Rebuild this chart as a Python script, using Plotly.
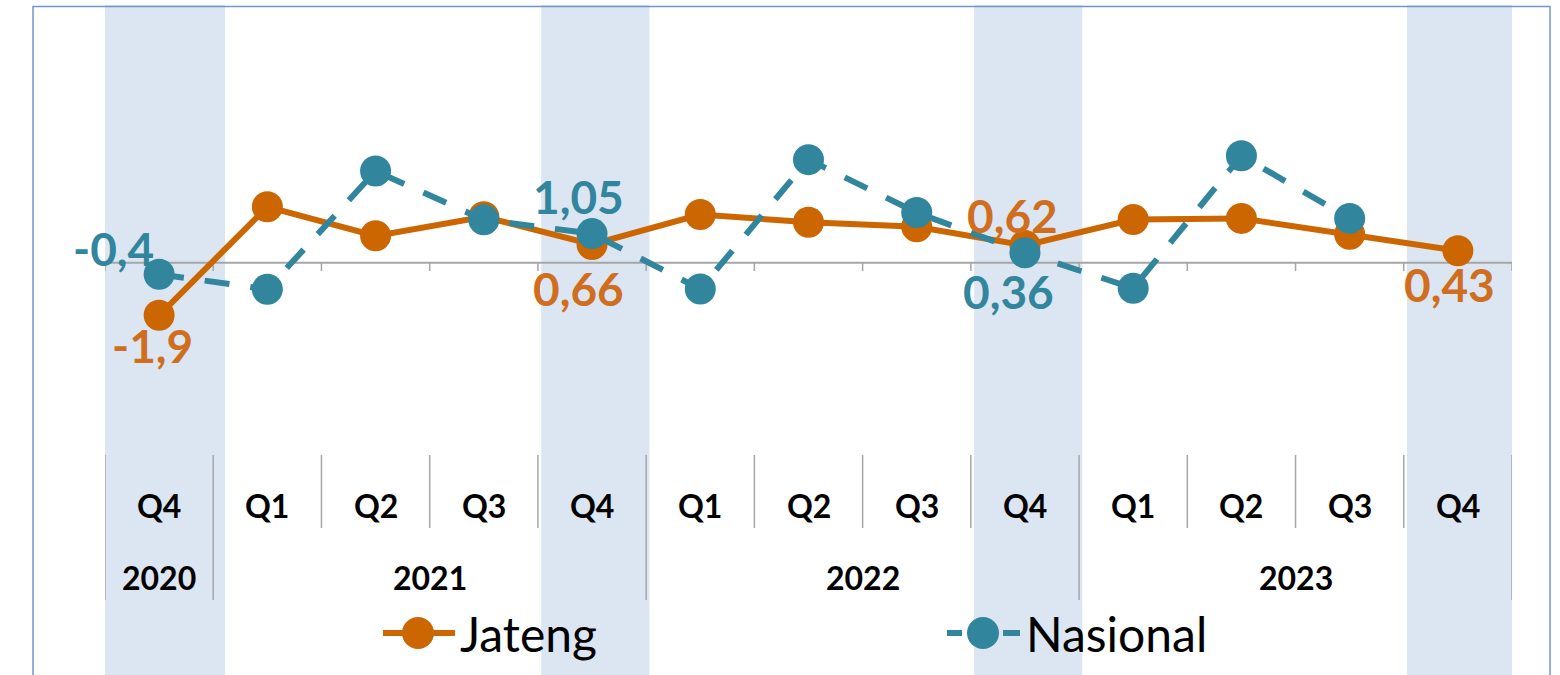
import plotly.graph_objects as go

quarters = ["Q4", "Q1", "Q2", "Q3", "Q4", "Q1", "Q2", "Q3", "Q4", "Q1", "Q2", "Q3", "Q4"]
years = ["2020", "2021", "2022", "2023"]
year_spans = [(0, 0), (1, 4), (5, 8), (9, 12)]
jateng = [-1.9, 2.02, 0.97, 1.66, 0.66, 1.74, 1.46, 1.30, 0.62, 1.56, 1.60, 1.03, 0.43]
nasional = [-0.42, -0.96, 3.31, 1.55, 1.05, -0.95, 3.72, 1.81, 0.36, -0.92, 3.86, 1.60, None]
shaded = [0, 4, 8, 12]

jateng_labels = [0, 4, 8, 12]
nasional_labels = [0, 4, 8]

ORANGE = "#CC6600"
ORANGE_TXT = "#CF6E1E"
TEAL = "#31869E"
SHADE = "#DCE6F2"
GRID = "#A6A6A6"
FONT = "Lato"

W, H = 1560, 675

ML = 105
MR = W - 1512
MT = 9
MB = H - 455
plot_h = H - MT - MB
plot_w = W - ML - MR
zero_px = 262.7
ppu = 27.7
y_top = (zero_px - MT) / ppu
y_bot = -((H - MB) - zero_px) / ppu


def py(pix):
    """pixel y -> paper y"""
    return ((H - MB) - pix) / plot_h


def px(pix):
    return (pix - ML) / plot_w


x = list(range(len(quarters)))

fig = go.Figure()
fig.add_trace(go.Scatter(
    x=x, y=jateng, mode="lines+markers", name="Jateng",
    line=dict(color=ORANGE, width=6),
    marker=dict(color=ORANGE, size=31),
    showlegend=False, cliponaxis=False,
))
fig.add_trace(go.Scatter(
    x=x, y=nasional, mode="lines+markers", name="Nasional",
    line=dict(color=TEAL, width=6, dash="25px,21px"),
    marker=dict(color=TEAL, size=31),
    showlegend=False, cliponaxis=False, connectgaps=False,
))

shapes = []
for i in shaded:
    x0 = i - 0.5 + (0 if i == 0 else 0.03)
    x1 = i + 0.5 + (0.11 if i == 0 else 0.03)
    shapes.append(dict(type="rect", xref="x", yref="paper", x0=x0, x1=x1,
                       y0=py(H + 30), y1=py(5), fillcolor=SHADE, line=dict(width=0), layer="below"))
shapes.append(dict(type="line", xref="x", yref="y", x0=-0.5, x1=len(x) - 0.5, y0=0, y1=0,
                   line=dict(color=GRID, width=2), layer="below"))
for b in range(len(x) + 1):
    xb = b - 0.5
    shapes.append(dict(type="line", xref="x", yref="y", x0=xb, x1=xb, y0=0, y1=-0.3,
                       line=dict(color=GRID, width=1.5), layer="below"))
year_bounds = set([s - 0.5 for s, e in year_spans] + [year_spans[-1][1] + 0.5])
for b in range(len(x) + 1):
    xb = b - 0.5
    bottom = 600 if xb in year_bounds else 528
    shapes.append(dict(type="line", xref="x", yref="paper", x0=xb, x1=xb, y0=py(455), y1=py(bottom),
                       line=dict(color=GRID, width=1.5), layer="below"))
shapes.append(dict(type="rect", xref="paper", yref="paper", x0=px(33), x1=px(1550),
                   y0=py(H + 40), y1=py(6.5), line=dict(color="#7096C8", width=1.5), layer="below"))

annotations = []
for i, q in enumerate(quarters):
    annotations.append(dict(xref="x", yref="paper", x=i, y=py(505), text=f"<b>{q}</b>",
                            xanchor="center", yanchor="middle",
                            showarrow=False, font=dict(family=FONT, size=32, color="black")))
for yr, (s, e) in zip(years, year_spans):
    annotations.append(dict(xref="x", yref="paper", x=(s + e) / 2, y=py(577), text=f"<b>{yr}</b>",
                            xanchor="center", yanchor="middle",
                            showarrow=False, font=dict(family=FONT, size=32, color="black")))


def lab(v):
    s = f"{v:.2f}"
    if s.endswith("0"):
        s = s[:-1]
    return s.replace(".", ",")


# label centre offsets from the point, in px (right, up)
j_shift = {0: (-7, -30), 4: (-14, -44), 8: (-12, 30), 12: (-8, -34)}
n_shift = {0: (-46, 26), 4: (-14, 37), 8: (-16, -39)}

for i in jateng_labels:
    dx, dy = j_shift[i]
    annotations.append(dict(xref="x", yref="y", x=i, y=jateng[i], text=f"<b>{lab(jateng[i])}</b>",
                            showarrow=False, xshift=dx, yshift=dy, xanchor="center", yanchor="middle",
                            font=dict(family=FONT, size=46, color=ORANGE_TXT)))
for i in nasional_labels:
    dx, dy = n_shift[i]
    v = nasional[i]
    t = lab(round(v, 1)) if i == 0 else lab(v)
    annotations.append(dict(xref="x", yref="y", x=i, y=v, text=f"<b>{t}</b>",
                            showarrow=False, xshift=dx, yshift=dy, xanchor="center", yanchor="middle",
                            font=dict(family=FONT, size=46, color=TEAL)))

ly = py(633)
shapes.append(dict(type="line", xref="paper", yref="paper", x0=px(383), x1=px(455), y0=ly, y1=ly,
                   line=dict(color=ORANGE, width=6)))
shapes.append(dict(type="circle", xref="paper", yref="paper", x0=px(402), x1=px(434),
                   y0=py(649), y1=py(617), fillcolor=ORANGE, line=dict(width=0)))
shapes.append(dict(type="line", xref="paper", yref="paper", x0=px(947), x1=px(962), y0=ly, y1=ly,
                   line=dict(color=TEAL, width=6)))
shapes.append(dict(type="line", xref="paper", yref="paper", x0=px(1003), x1=px(1020), y0=ly, y1=ly,
                   line=dict(color=TEAL, width=6)))
shapes.append(dict(type="circle", xref="paper", yref="paper", x0=px(967), x1=px(999),
                   y0=py(649), y1=py(617), fillcolor=TEAL, line=dict(width=0)))
annotations.append(dict(xref="paper", yref="paper", x=px(458), y=ly, xanchor="left", yanchor="middle",
                        text="Jateng", showarrow=False, font=dict(family=FONT, size=48, color="black")))
annotations.append(dict(xref="paper", yref="paper", x=px(1024), y=ly, xanchor="left", yanchor="middle",
                        text="Nasional", showarrow=False, font=dict(family=FONT, size=48, color="black")))

fig.update_layout(
    width=W, height=H,
    margin=dict(l=ML, r=MR, t=MT, b=MB),
    paper_bgcolor="white", plot_bgcolor="rgba(0,0,0,0)",
    xaxis=dict(range=[-0.5, len(x) - 0.5], showgrid=False, zeroline=False, showticklabels=False,
               showline=False, ticks=""),
    yaxis=dict(range=[y_bot, y_top], showgrid=False, zeroline=False, showticklabels=False,
               showline=False, ticks=""),
    shapes=shapes, annotations=annotations, showlegend=False,
)

fig.write_html("out.html", config={"displayModeBar": False},
               post_script="document.body.style.margin='0';document.body.style.overflow='hidden';")
